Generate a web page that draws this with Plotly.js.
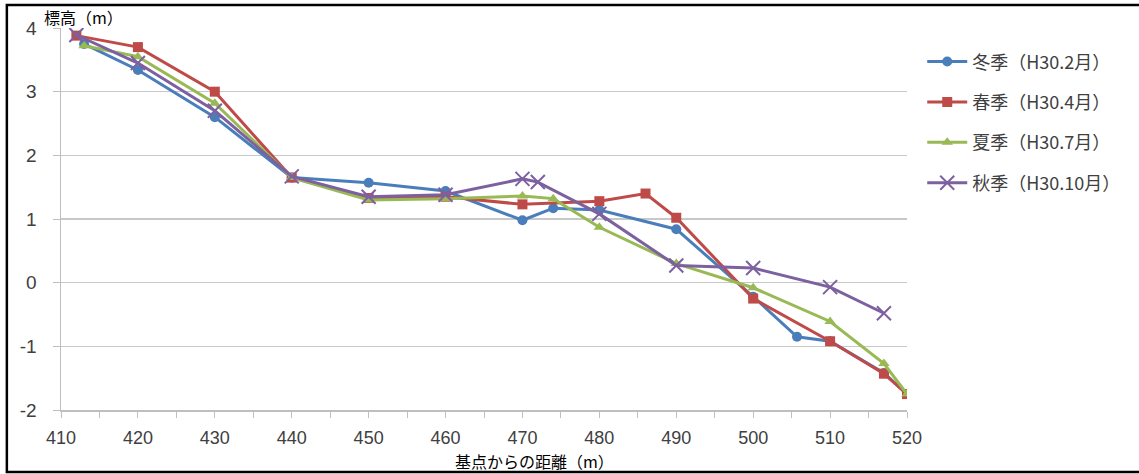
<!DOCTYPE html>
<html>
<head>
<meta charset="utf-8">
<script src="https://cdn.plot.ly/plotly-3.0.1.min.js"></script>
<style>html,body{margin:0;padding:0;background:#fff;}#chart{width:1139px;height:474px;}</style>
</head>
<body>
<div id="chart"></div>
<script>
// Data
const seriesNames = ["冬季（H30.2月）", "春季（H30.4月）", "夏季（H30.7月）", "秋季（H30.10月）"];

const winterX = [413, 420, 430, 440, 450, 460, 470, 474, 480, 490, 500, 505.7, 510, 517, 520];
const winterY = [3.75, 3.34, 2.6, 1.65, 1.57, 1.44, 0.98, 1.17, 1.14, 0.84, -0.22, -0.85, -0.92, -1.42, -1.75];

const springX = [412, 420, 430, 440, 450, 460, 470, 480, 486, 490, 500, 510, 517, 520];
const springY = [3.88, 3.7, 3.0, 1.65, 1.33, 1.35, 1.23, 1.28, 1.4, 1.02, -0.25, -0.92, -1.43, -1.75];

const summerX = [413, 420, 430, 440, 450, 460, 470, 474, 480, 490, 500, 510, 517, 520];
const summerY = [3.72, 3.55, 2.82, 1.65, 1.3, 1.32, 1.36, 1.32, 0.87, 0.3, -0.08, -0.61, -1.27, -1.75];

const autumnX = [412, 420, 430, 440, 450, 460, 470, 472, 480, 490, 500, 510, 517];
const autumnY = [3.89, 3.45, 2.7, 1.67, 1.35, 1.38, 1.63, 1.58, 1.08, 0.27, 0.23, -0.07, -0.48];

const yTicks = [-2, -1, 0, 1, 2, 3, 4];
const xTicks = [410, 420, 430, 440, 450, 460, 470, 480, 490, 500, 510, 520];

const yTitle = "標高（m）";
const xTitle = "基点からの距離（m）";

const colors = ["#4A7EBB", "#BE4B48", "#98B954", "#7D60A0"];
const font = "Liberation Sans, Arial, sans-serif";
const jpFont = "Noto Sans CJK JP, sans-serif";

const traces = [
  {x: winterX, y: winterY, name: seriesNames[0], legendgroup: "a", type: "scatter", mode: "lines+markers",
   line: {color: colors[0], width: 3}, marker: {symbol: "circle", size: 10, color: colors[0]}},
  {x: springX, y: springY, name: seriesNames[1], legendgroup: "b", type: "scatter", mode: "lines+markers",
   line: {color: colors[1], width: 3}, marker: {symbol: "square", size: 10, color: colors[1]}},
  {x: summerX, y: summerY, name: seriesNames[2], legendgroup: "c", type: "scatter", mode: "lines+markers",
   line: {color: colors[2], width: 3}, marker: {symbol: "triangle-up", size: 10, color: colors[2]}},
  {x: autumnX, y: autumnY, name: seriesNames[3], legendgroup: "d", type: "scatter", mode: "lines+markers",
   line: {color: colors[3], width: 3}, marker: {symbol: "x-thin-open", size: 14, color: colors[3], line: {color: colors[3], width: 2}}}
];

const layout = {
  width: 1139, height: 474,
  margin: {l: 61, r: 232, t: 28, b: 64, pad: 0, autoexpand: false},
  paper_bgcolor: "#ffffff", plot_bgcolor: "#ffffff",
  showlegend: true,
  legend: {x: 1.018, y: 0.96, xanchor: "left", yanchor: "top", traceorder: "grouped", tracegroupgap: 14,
           font: {family: jpFont, size: 18, color: "#404040"}, itemwidth: 40},
  xaxis: {range: [410, 520], tickvals: xTicks, ticktext: xTicks.map(String), showgrid: false, zeroline: false,
          showline: true, linecolor: "#BFBFBF", linewidth: 1.5, ticks: "outside", ticklen: 6, tickcolor: "#BFBFBF",
          ticklabelstandoff: 5, automargin: false,
          minor: {dtick: 5, ticks: "outside", ticklen: 6, tickcolor: "#BFBFBF", showgrid: false},
          tickfont: {family: font, size: 18, color: "#404040"}},
  yaxis: {range: [-2, 4], tickvals: yTicks, ticktext: yTicks.map(String), showgrid: true, gridcolor: "#C8C8C8", gridwidth: 1.5,
          zeroline: false, showline: true, linecolor: "#BFBFBF", linewidth: 1.5, ticks: "outside", ticklen: 7, tickcolor: "#BFBFBF",
          ticklabelstandoff: 12, automargin: false,
          tickfont: {family: font, size: 19, color: "#404040"}},
  annotations: [
    {text: yTitle, xref: "paper", yref: "paper", x: -0.023, y: 1.03, xanchor: "left", yanchor: "middle", showarrow: false,
     font: {family: jpFont, size: 16, color: "#000000"}},
    {text: xTitle, xref: "paper", yref: "paper", x: 0.56, y: -0.1335, xanchor: "center", yanchor: "middle", showarrow: false,
     font: {family: jpFont, size: 16, color: "#000000"}}
  ],
  shapes: [
    {type: "rect", xref: "paper", yref: "paper", x0: -0.064, x1: 1.30, y0: -0.162, y1: 1.06,
     line: {color: "#000000", width: 2.5}, fillcolor: "rgba(0,0,0,0)", layer: "below"}
  ]
};

Plotly.newPlot("chart", traces, layout, {staticPlot: true, displayModeBar: false});
</script>
</body>
</html>
